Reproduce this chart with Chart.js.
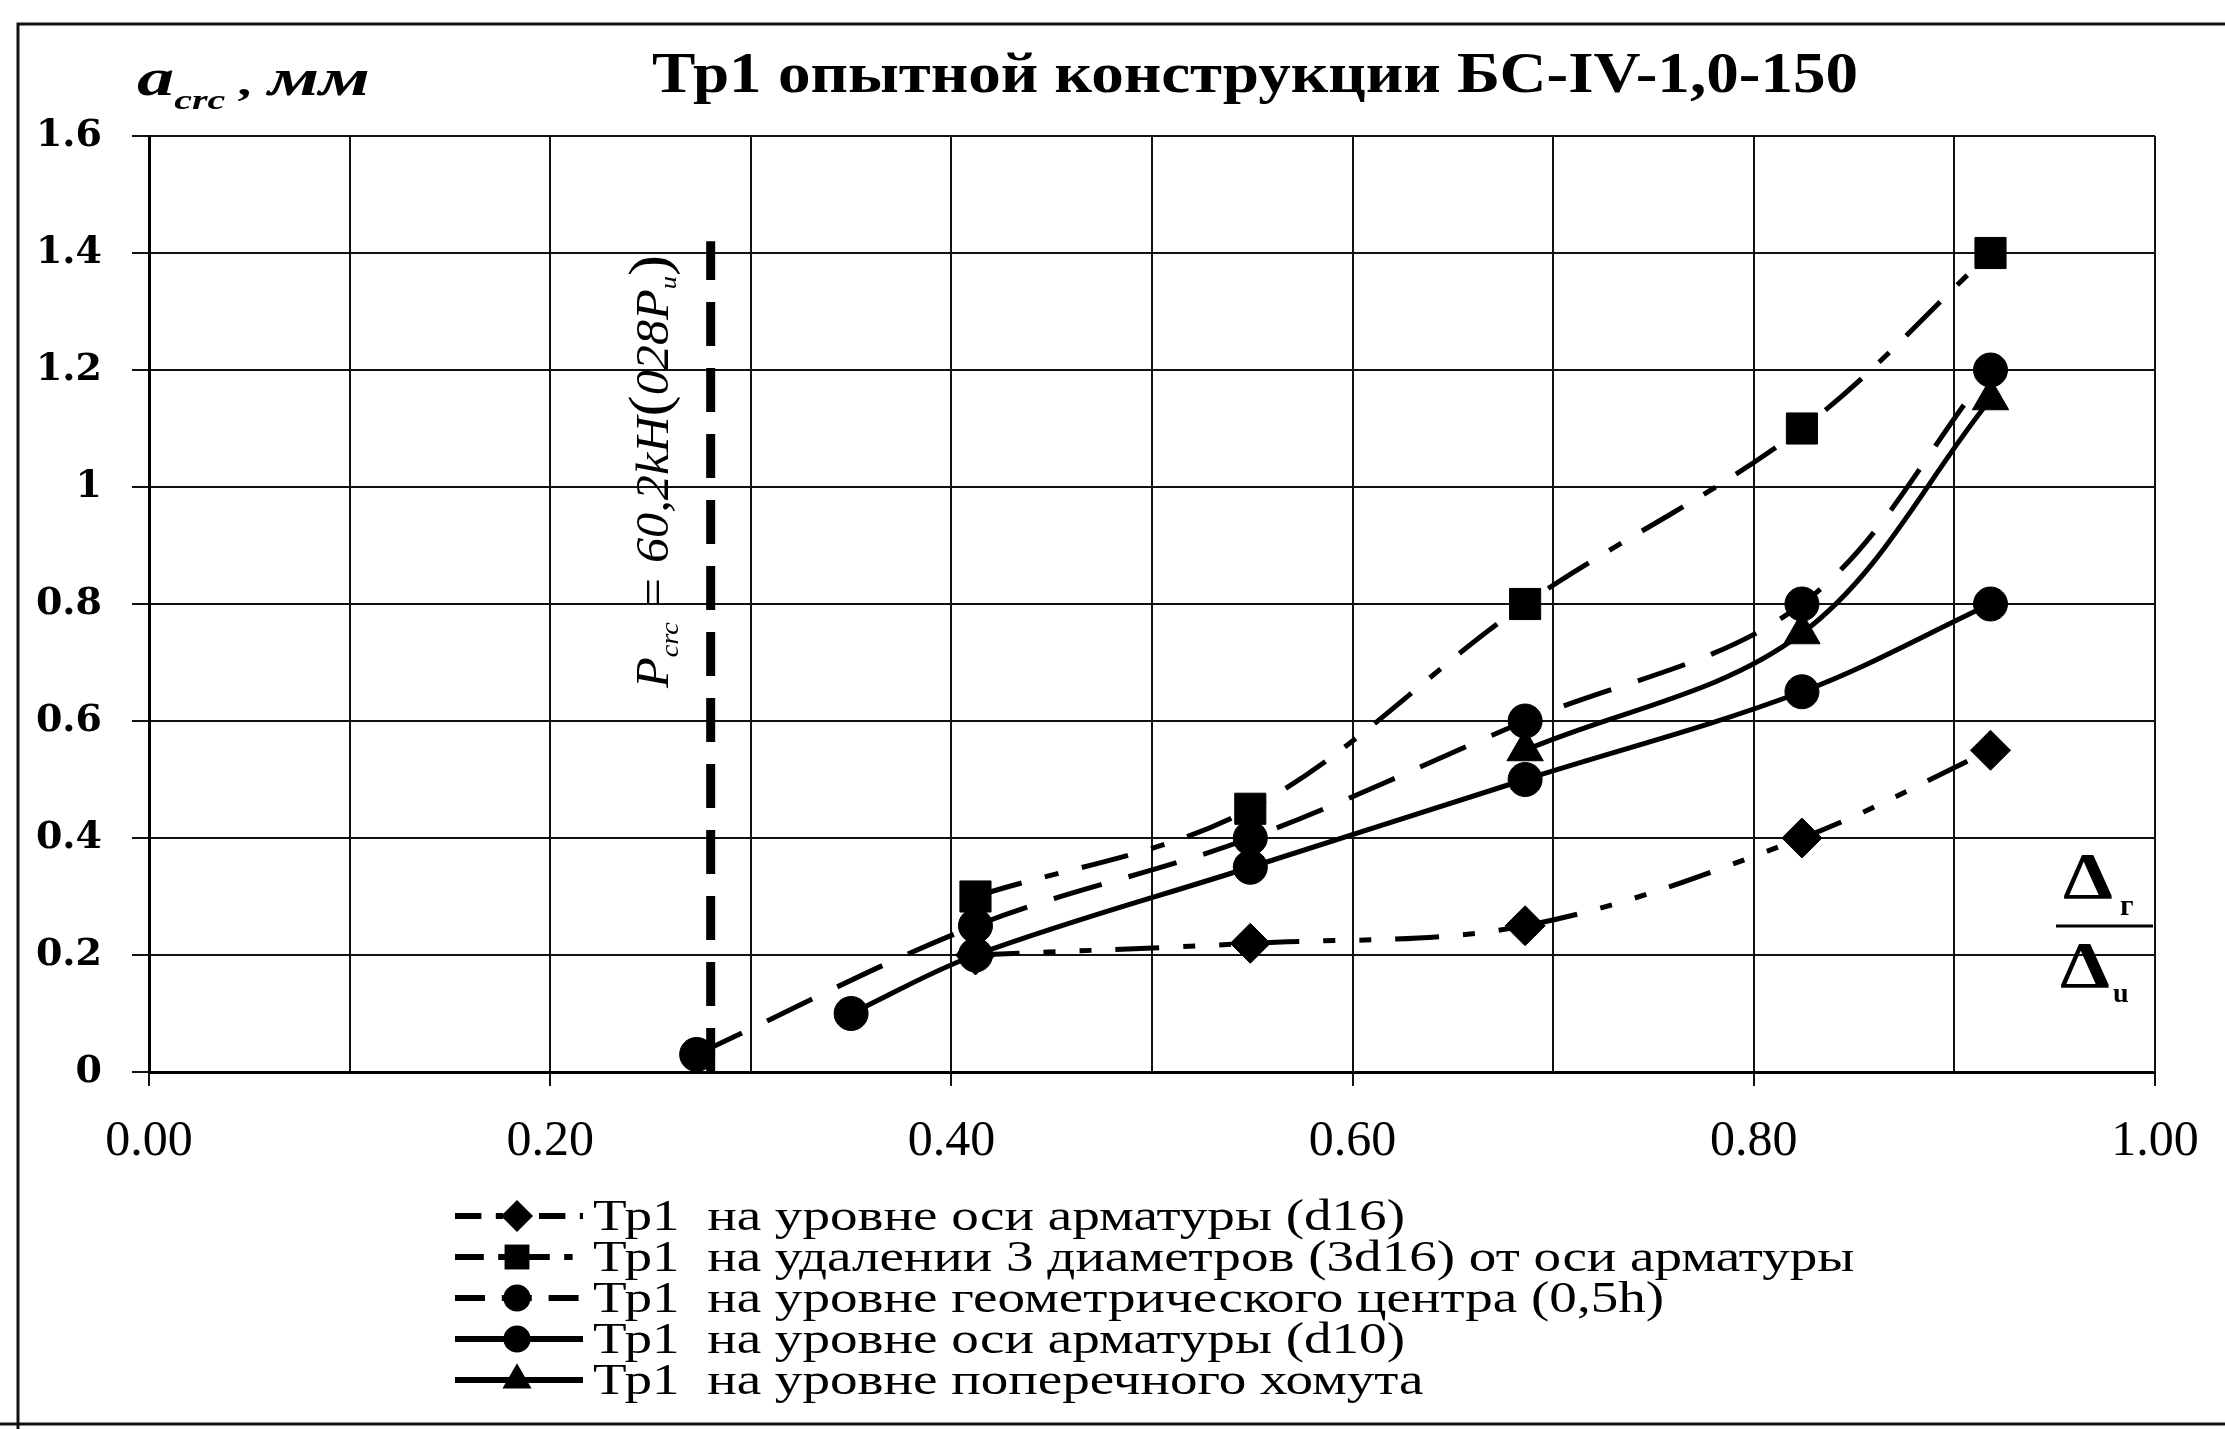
<!DOCTYPE html>
<html>
<head>
<meta charset="utf-8">
<script src="https://cdn.jsdelivr.net/npm/chart.js@4.4.1/dist/chart.umd.min.js"></script>
<style>
  html, body { margin: 0; padding: 0; background: #fff; }
  #wrap { width: 2225px; height: 1429px; }
</style>
</head>
<body>
<div id="wrap"><canvas id="crackChart" width="2225" height="1429"></canvas></div>
<script>
// load ratio (Δг/Δu) at each stage
const loadRatio = [0.273, 0.35, 0.412, 0.549, 0.686, 0.824, 0.918];

// crack width a_crc, mm (null = no reading at that stage)
const crackAxisD16 = [null, null, 0.20, 0.22, 0.25, 0.40, 0.55];
const crack3D16    = [null, null, 0.30, 0.45, 0.80, 1.10, 1.40];
const crackCenter  = [0.03, null, 0.25, 0.40, 0.60, 0.80, 1.20];
const crackAxisD10 = [null, 0.10, 0.20, 0.35, 0.50, 0.65, 0.80];
const crackStirrup = [null, null, null, null, 0.55, 0.75, 1.15];

const seriesNames = [
  'Тр1  на уровне оси арматуры (d16)',
  'Тр1  на удалении 3 диаметров (3d16) от оси арматуры',
  'Тр1  на уровне геометрического центра (0,5h)',
  'Тр1  на уровне оси арматуры (d10)',
  'Тр1  на уровне поперечного хомута'
];

// cracking load marker
const crackLoad = 0.28;
const crackLineTop = 1.42;

const xTickLabels = ['0.00', '0.20', '0.40', '0.60', '0.80', '1.00'];
const yTickLabels = ['0', '0.2', '0.4', '0.6', '0.8', '1', '1.2', '1.4', '1.6'];

const chartTitle = 'Тр1 опытной конструкции БС-IV-1,0-150';

function toPoints(vals) {
    return loadRatio.map((x, i) => ({ x: x, y: vals[i] })).filter(p => p.y !== null);
}

const looks = [
    { marker: 'rectRot',  radius: 20, dash: [44, 24, 12, 24, 12, 24] },
    { marker: 'rect',     radius: 22, dash: [48, 24, 14, 24] },
    { marker: 'circle',   radius: 17, dash: [50, 28] },
    { marker: 'circle',   radius: 17, dash: [] },
    { marker: 'triangle', radius: 21, dash: [] }
];

const seriesValues = [crackAxisD16, crack3D16, crackCenter, crackAxisD10, crackStirrup];

let datasets = seriesValues.map((vals, i) => ({
    label: seriesNames[i],
    data: toPoints(vals),
    borderColor: '#000',
    backgroundColor: '#000',
    borderWidth: 5,
    borderDash: looks[i].dash,
    pointStyle: looks[i].marker,
    pointRadius: looks[i].radius,
    pointBorderWidth: 1,
    tension: 0.35,
    fill: false
}));

datasets.push({
    label: 'Pcrc',
    data: [{ x: crackLoad, y: 0 }, { x: crackLoad, y: crackLineTop }],
    borderColor: '#000',
    borderWidth: 9,
    borderDash: [44, 22],
    pointRadius: 0,
    tension: 0,
    fill: false
});

function drawMarker(ctx, style, x, y, r) {
    ctx.beginPath();
    if (style === 'circle') {
        ctx.arc(x, y, r, 0, Math.PI * 2);
    } else if (style === 'rect') {
        const s = r * Math.SQRT1_2;
        ctx.rect(x - s, y - s, 2 * s, 2 * s);
    } else if (style === 'rectRot') {
        ctx.moveTo(x, y - r); ctx.lineTo(x + r, y); ctx.lineTo(x, y + r); ctx.lineTo(x - r, y);
        ctx.closePath();
    } else if (style === 'triangle') {
        ctx.moveTo(x, y - r);
        ctx.lineTo(x + r * 0.866, y + r * 0.5);
        ctx.lineTo(x - r * 0.866, y + r * 0.5);
        ctx.closePath();
    }
    ctx.fill();
}

// text made of pieces (for subscripts), optionally stretched to a width
function drawRich(ctx, parts, x, y, fitWidth) {
    let w = 0;
    parts.forEach(p => { ctx.font = p.font; w += ctx.measureText(p.t).width; });
    const k = fitWidth ? fitWidth / w : 1;
    ctx.save();
    ctx.translate(x, y);
    ctx.scale(k, 1);
    let cx = 0;
    parts.forEach(p => {
        ctx.font = p.font;
        ctx.fillText(p.t, cx, p.dy || 0);
        cx += ctx.measureText(p.t).width;
    });
    ctx.restore();
}

const decor = {
    id: 'decor',
    beforeDraw(chart) {
        const ctx = chart.ctx;
        ctx.save();
        ctx.fillStyle = '#fff';
        ctx.fillRect(0, 0, chart.width, chart.height);
        // page frame
        ctx.strokeStyle = '#111';
        ctx.lineWidth = 3;
        ctx.beginPath();
        ctx.moveTo(18, 1429); ctx.lineTo(18, 24); ctx.lineTo(2225, 24);
        ctx.moveTo(0, 1424); ctx.lineTo(2225, 1424);
        ctx.stroke();
        ctx.restore();
    },
    afterDraw(chart) {
        const ctx = chart.ctx;
        ctx.save();
        ctx.fillStyle = '#000';
        ctx.textBaseline = 'alphabetic';
        ctx.textAlign = 'left';

        // title
        drawRich(ctx, [{ t: chartTitle, font: 'bold 56px "Liberation Serif"' }], 652, 92, 1206);

        // y-axis caption
        drawRich(ctx, [
            { t: 'a', font: 'bold italic 52px "Liberation Serif"' },
            { t: 'crc', font: 'bold italic 28px "Liberation Serif"', dy: 14 },
            { t: ' , ', font: 'bold italic 40px "Liberation Serif"' },
            { t: 'мм', font: 'bold italic 52px "Liberation Serif"' }
        ], 137, 95, 233);

        // rotated note beside the cracking-load line
        ctx.save();
        ctx.translate(668, 688);
        ctx.rotate(-Math.PI / 2);
        drawRich(ctx, [
            { t: 'P', font: 'italic 46px "Liberation Serif"' },
            { t: 'crc', font: 'italic 26px "Liberation Serif"', dy: 10 },
            { t: ' = 60,2kH', font: 'italic 46px "Liberation Serif"' },
            { t: '(', font: '58px "Liberation Serif"' },
            { t: '028P', font: 'italic 46px "Liberation Serif"' },
            { t: 'u', font: 'italic 24px "Liberation Serif"', dy: 8 },
            { t: ')', font: '58px "Liberation Serif"' }
        ], 0, 0, 433);
        ctx.restore();

        // x-axis caption Δг / Δu
        drawRich(ctx, [{ t: 'Δ', font: 'bold 66px "Liberation Serif"' }], 2063, 898, 50);
        ctx.font = 'bold 30px "Liberation Serif"';
        ctx.fillText('г', 2120, 915);
        drawRich(ctx, [{ t: 'Δ', font: 'bold 66px "Liberation Serif"' }], 2060, 987, 50);
        ctx.font = 'bold 28px "Liberation Serif"';
        ctx.fillText('u', 2113, 1002);
        ctx.strokeStyle = '#000';
        ctx.lineWidth = 3;
        ctx.beginPath();
        ctx.moveTo(2056, 926); ctx.lineTo(2153, 926);
        ctx.stroke();

        // legend
        ctx.font = '44px "Liberation Serif"';
        const k = 812 / ctx.measureText(seriesNames[0]).width;
        ctx.textBaseline = 'middle';
        seriesNames.forEach((name, i) => {
            const y = 1216 + i * 41;
            ctx.save();
            ctx.strokeStyle = '#000';
            ctx.lineWidth = 6;
            ctx.setLineDash(looks[i].dash.map(d => d * 0.6));
            ctx.beginPath();
            ctx.moveTo(455, y); ctx.lineTo(583, y);
            ctx.stroke();
            ctx.restore();
            drawMarker(ctx, looks[i].marker, 517, y, looks[i].radius * 0.8);
            ctx.save();
            ctx.translate(593, y);
            ctx.scale(k, 1);
            ctx.font = '44px "Liberation Serif"';
            ctx.fillText(name, 0, 2);
            ctx.restore();
        });
        ctx.restore();
    }
};

new Chart(document.getElementById('crackChart'), {
    type: 'line',
    data: { datasets: datasets },
    plugins: [decor],
    options: {
        responsive: false,
        animation: false,
        devicePixelRatio: 1,
        layout: { padding: { left: 0, right: 70, top: 136, bottom: 0 } },
        plugins: {
            legend: { display: false },
            title: { display: false },
            tooltip: { enabled: false }
        },
        scales: {
            x: {
                type: 'linear',
                min: 0,
                max: 1,
                afterFit: s => { s.height = 357; },
                ticks: {
                    stepSize: 0.1,
                    autoSkip: false,
                    maxRotation: 0,
                    padding: 26,
                    color: '#000',
                    font: { family: 'Liberation Serif', size: 50 },
                    callback: (v, i) => i % 2 === 0 ? xTickLabels[i / 2] : ''
                },
                grid: {
                    color: '#111',
                    lineWidth: 2,
                    tickLength: 14,
                    tickColor: c => c.index % 2 === 0 ? '#111' : 'rgba(0,0,0,0)'
                },
                border: { color: '#000', width: 3 }
            },
            y: {
                min: 0,
                max: 1.6,
                afterFit: s => { s.width = 149; },
                ticks: {
                    stepSize: 0.2,
                    padding: 30,
                    color: '#000',
                    font: { family: 'DejaVu Serif', size: 38, weight: 'bold' },
                    callback: (v, i) => yTickLabels[i]
                },
                grid: { color: '#111', lineWidth: 2, tickLength: 17 },
                border: { color: '#000', width: 3 }
            }
        }
    }
});
</script>
</body>
</html>
